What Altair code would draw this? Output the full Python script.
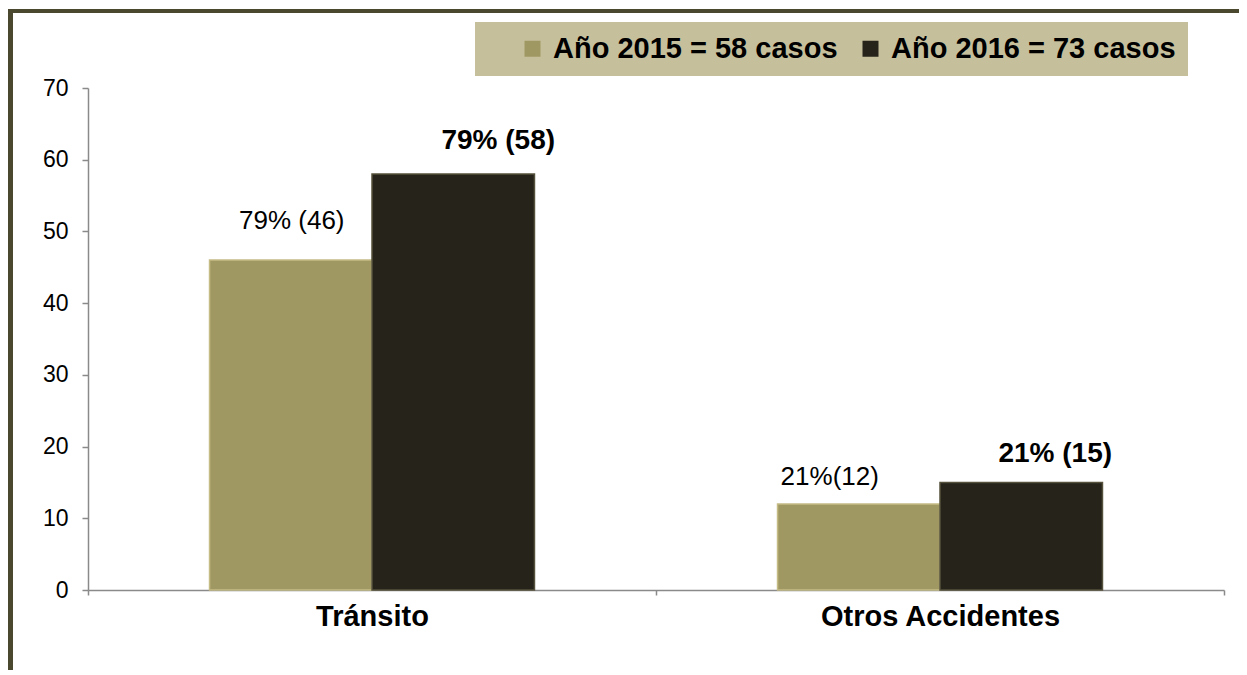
import altair as alt
import pandas as pd

categories = ["Tránsito", "Otros Accidentes"]
series = ["Año 2015 = 58 casos", "Año 2016 = 73 casos"]
values_2015 = [46, 12]
values_2016 = [58, 15]
labels_2015 = ["79% (46)", "21%(12)"]
labels_2016 = ["79% (58)", "21% (15)"]

rows = []
for i, c in enumerate(categories):
    rows.append({"category": c, "series": series[0], "value": values_2015[i], "label": labels_2015[i]})
    rows.append({"category": c, "series": series[1], "value": values_2016[i], "label": labels_2016[i]})
df = pd.DataFrame(rows)

FONT = "Liberation Sans"
GRAY = "#8a8a8a"
FRAME = "#4b4830"

x_enc = alt.X(
    "category:N",
    sort=categories,
    scale=alt.Scale(paddingInner=0, paddingOuter=0),
    axis=alt.Axis(
        title=None, labelAngle=0, labelFont=FONT, labelFontSize=29, labelFontWeight="bold",
        labelColor="black", labelPadding=7, labelLimit=500, tickSize=5, tickBand="extent",
        domainColor=GRAY, tickColor=GRAY, domainWidth=1.5, tickWidth=1.5,
    ),
)
xoff_enc = alt.XOffset("series:N", sort=series, scale=alt.Scale(paddingInner=0, paddingOuter=0.748))
y_enc = alt.Y(
    "value:Q",
    scale=alt.Scale(domain=[0, 70], nice=False),
    axis=alt.Axis(
        title=None, values=[0, 10, 20, 30, 40, 50, 60, 70], grid=False, labelFont=FONT,
        labelFontSize=23, labelColor="black", labelPadding=14, tickSize=6,
        domainColor=GRAY, tickColor=GRAY, domainWidth=1.5, tickWidth=1.5,
    ),
)

base = alt.Chart(df).encode(x=x_enc, xOffset=xoff_enc, y=y_enc)

bars = base.mark_bar(strokeWidth=1.5).encode(
    color=alt.Color(
        "series:N",
        sort=series,
        scale=alt.Scale(domain=series, range=["#a09862", "#25231a"]),
        legend=alt.Legend(
            title=" ", titleOrient="left", titleFontSize=30, titlePadding=31,
            orient="none", legendX=387, legendY=-66, direction="horizontal",
            symbolType="square", symbolSize=256, symbolStrokeWidth=0,
            labelFont=FONT, labelFontSize=29, labelFontWeight="bold", labelColor="black",
            labelLimit=600, labelOffset=6, columnPadding=18, fillColor="#c6bf9c", padding=12,
        ),
    ),
    stroke=alt.Stroke(
        "series:N", sort=series,
        scale=alt.Scale(domain=series, range=["#c4bb85", "#55513c"]), legend=None,
    ),
)


def label(cat, ser, dx, dy, bold, size):
    return base.transform_filter(
        (alt.datum.category == cat) & (alt.datum.series == ser)
    ).mark_text(
        dx=dx, dy=dy, baseline="alphabetic", align="center", font=FONT,
        fontSize=size, fontWeight="bold" if bold else "normal", color="black",
    ).encode(text="label:N")


texts = [
    label(categories[0], series[0], 1, -31, False, 26),
    label(categories[1], series[0], -29, -19, False, 26),
    label(categories[0], series[1], 45, -25, True, 28),
    label(categories[1], series[1], 34, -20, True, 28),
]

one = pd.DataFrame({"a": [0]})
frame_left = alt.Chart(one).mark_rule(color=FRAME, strokeWidth=5).encode(
    x=alt.value(-77.5), y=alt.value(-79), y2=alt.value(600)
)
frame_top = alt.Chart(one).mark_rule(color=FRAME, strokeWidth=4).encode(
    x=alt.value(-80), x2=alt.value(1170), y=alt.value(-77)
)

chart = alt.layer(frame_left, frame_top, bars, *texts).properties(
    width=1136,
    height=502,
    background="white",
    autosize=alt.AutoSizeParams(type="none"),
    padding={"left": 80, "top": 80, "right": 15, "bottom": 80},
).configure_view(strokeWidth=0)

chart.save("out.html", embed_options={"renderer": "svg", "actions": False})
